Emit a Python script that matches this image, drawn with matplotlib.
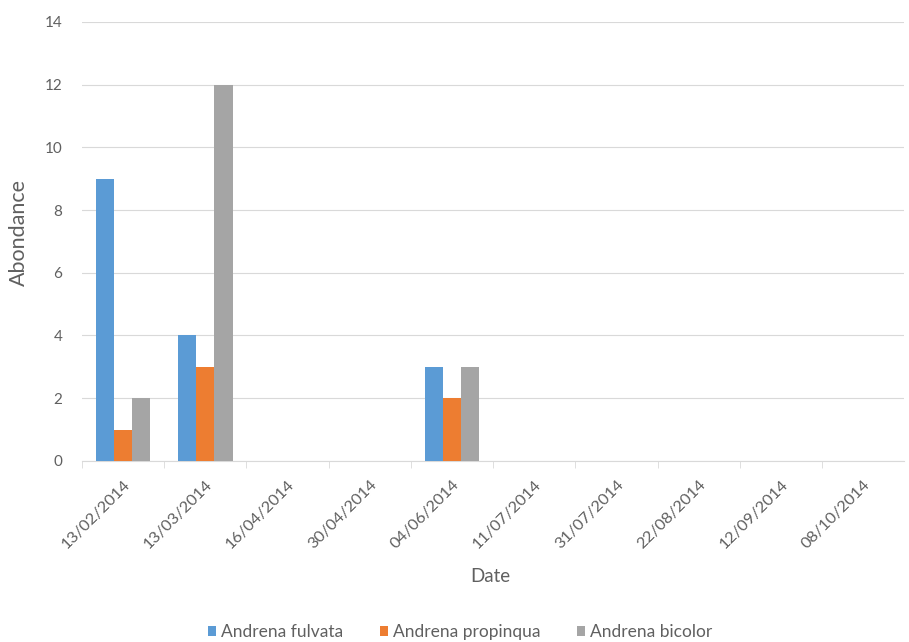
import numpy as np
import matplotlib.pyplot as plt

dates = ['13/02/2014', '13/03/2014', '16/04/2014', '30/04/2014', '04/06/2014',
         '11/07/2014', '31/07/2014', '22/08/2014', '12/09/2014', '08/10/2014']
fulvata = [9, 4, 0, 0, 3, 0, 0, 0, 0, 0]
propinqua = [1, 3, 0, 0, 2, 0, 0, 0, 0, 0]
bicolor = [2, 12, 0, 0, 3, 0, 0, 0, 0, 0]

series = [('Andrena fulvata', fulvata, '#5B9BD5'),
          ('Andrena propinqua', propinqua, '#ED7D31'),
          ('Andrena bicolor', bicolor, '#A5A5A5')]

plt.rcParams['font.family'] = ['Lato', 'DejaVu Sans']
txt = '#606060'

fig = plt.figure(figsize=(9.09, 6.42), dpi=100)
ax = fig.add_axes([0.090, 0.282, 0.905, 0.684])

x = np.arange(len(dates))
w = 0.667 / 3
for i, (name, vals, col) in enumerate(series):
    ax.bar(x + (i - 1) * w, vals, width=w, color=col, label=name, zorder=3)

ax.set_xlim(-0.5, len(dates) - 0.5)
ax.set_ylim(0, 14)
ax.set_yticks(range(0, 15, 2))
ax.yaxis.grid(True, color='#D9D9D9', linewidth=0.8, zorder=0)
for s in ['top', 'right', 'left']:
    ax.spines[s].set_visible(False)
ax.spines['bottom'].set_color('#D9D9D9')
ax.tick_params(axis='y', length=0, colors=txt, labelsize=11, pad=14)

ax.set_xticks(x - 0.5, minor=True)
ax.tick_params(axis='x', which='minor', length=5, color='#D9D9D9')
ax.set_xticks(x)
ax.set_xticklabels(dates, rotation=45, ha='right', va='top', rotation_mode='anchor')
ax.tick_params(axis='x', which='major', length=0, colors=txt, labelsize=11.8, pad=12)

ax.set_xlabel('Date', color=txt, fontsize=13.5, va='center')
ax.xaxis.set_label_coords(0.497, -0.264)
ax.set_ylabel('Abondance', color=txt, fontsize=15.5, va='center')
ax.yaxis.set_label_coords(-0.0766, 0.52)

ax.legend(loc='center', bbox_to_anchor=(0.46, -0.39), ncol=3, frameon=False,
          fontsize=12.5, labelcolor=txt, handlelength=0.46, handleheight=0.46,
          handletextpad=0.3, columnspacing=2.1)

fig.savefig('out.png', dpi=100)
